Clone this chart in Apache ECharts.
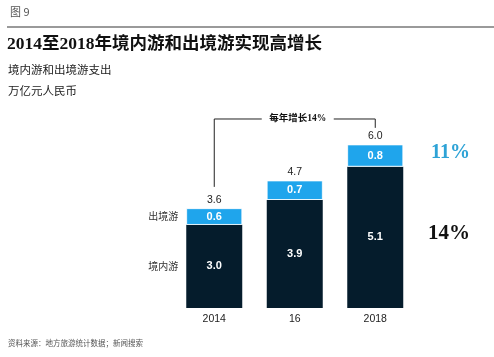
<!DOCTYPE html>
<html><head><meta charset="utf-8">
<script src="https://cdn.jsdelivr.net/npm/echarts@6/dist/echarts.min.js"></script>
<style>html,body{margin:0;padding:0;background:#fff}#c{width:494px;height:357px}</style>
</head><body><div id="c"></div>
<script>
var categories = ['2014', '16', '2018'];
var domestic = [3.0, 3.9, 5.1];
var outbound = [0.6, 0.7, 0.8];
var totals = [3.6, 4.7, 6.0];
var seriesNames = ['境内游', '出境游'];
var growthLabel = '每年增长14%';
var cagrOutbound = '11%';
var cagrDomestic = '14%';

var DARK = '#051c2c', BLUE = '#1fa5ec';
var chart = echarts.init(document.getElementById('c'), null, {renderer: 'canvas'});
var sans = 'Arial, "Liberation Sans", "Noto Sans CJK SC", sans-serif';
var serif = '"Liberation Serif", "Noto Sans CJK SC", serif';

var option = {
  animation: false,
  grid: {left: 174, width: 241.5, top: 114, height: 194},
  xAxis: {
    type: 'category', data: categories,
    axisLine: {show: false}, axisTick: {show: false},
    axisLabel: {color: '#222', fontSize: 10.5, fontFamily: sans, margin: 6}
  },
  yAxis: {type: 'value', min: 0, max: 7, show: false},
  series: [
    {name: seriesNames[0], type: 'bar', stack: 's', data: domestic, barWidth: 56,
     itemStyle: {color: DARK},
     label: {show: true, position: 'inside', color: '#fff', fontSize: 11, fontWeight: 'bold', fontFamily: sans,
       formatter: function(p){return p.value.toFixed(1);}}},
    {name: seriesNames[1], type: 'bar', stack: 's', data: outbound, barWidth: 56,
     itemStyle: {color: BLUE, borderColor: '#fff', borderWidth: 0.8},
     label: {show: true, position: 'inside', color: '#fff', fontSize: 11, fontWeight: 'bold', fontFamily: sans,
       formatter: function(p){return p.value.toFixed(1);}}},
    {name: 'total', type: 'bar', stack: 's', data: totals.map(function(){return 0;}), barWidth: 56,
     itemStyle: {color: 'transparent'},
     label: {show: true, position: 'top', distance: 3, color: '#222', fontSize: 10.5, fontFamily: sans,
       formatter: function(p){return totals[p.dataIndex].toFixed(1);}}}
  ]
};
chart.setOption(option);

function px(i, v){ return chart.convertToPixel({xAxisIndex:0, yAxisIndex:0}, [i, v]); }
var p0top = px(0, 6.82), p0bot = px(0, totals[0] + 0.77);
var p2top = px(2, 6.82), p2bot = px(2, totals[2] + 0.5);
var midX = (p0top[0] + p2top[0]) / 2 + 3;
var dOut = px(0, domestic[0] + outbound[0] / 2), dDom = px(0, domestic[0] / 2);
var r1 = px(2, domestic[2] + outbound[2] / 2 + 0.1), r2 = px(2, domestic[2] / 2 + 0.15);

chart.setOption({
  graphic: [
    {type: 'text', left: 10, top: 6, style: {text: '图 9', fontSize: 11, fill: '#555', fontFamily: '"Noto Sans CJK SC", sans-serif'}},
    {type: 'line', shape: {x1: 7, y1: 27, x2: 494, y2: 27}, style: {stroke: '#9a9a9a', lineWidth: 2}},
    {type: 'text', left: 7, top: 36, style: {text: '2014至2018年境内游和出境游实现高增长', fontSize: 17.5, fontWeight: 'bold', fill: '#111', fontFamily: serif}},
    {type: 'text', left: 8, top: 64, style: {text: '境内游和出境游支出', fontSize: 11.5, fill: '#222', fontFamily: '"Noto Sans CJK SC", sans-serif'}},
    {type: 'text', left: 8, top: 85, style: {text: '万亿元人民币', fontSize: 11.5, fill: '#222', fontFamily: '"Noto Sans CJK SC", sans-serif'}},
    {type: 'text', left: 8, top: 339, style: {text: '资料来源：地方旅游统计数据；新闻搜索', fontSize: 7.5, fill: '#555', fontFamily: '"Noto Sans CJK SC", sans-serif'}},
    {type: 'polyline', shape: {points: [[p0bot[0], p0bot[1]], [p0top[0], p0top[1]], [midX - 36, p0top[1]]]}, style: {stroke: '#222', lineWidth: 1, fill: null}},
    {type: 'polyline', shape: {points: [[midX + 36, p2top[1]], [p2top[0], p2top[1]], [p2bot[0], p2bot[1]]]}, style: {stroke: '#222', lineWidth: 1, fill: null}},
    {type: 'text', x: midX, y: p0top[1], style: {text: growthLabel, fontSize: 9.5, fontWeight: 'bold', fill: '#111', fontFamily: serif, align: 'center', verticalAlign: 'middle'}},
    {type: 'text', x: dOut[0] - 36, y: dOut[1], style: {text: seriesNames[1], fontSize: 10, fill: '#333', fontFamily: '"Noto Sans CJK SC", sans-serif', align: 'right', verticalAlign: 'middle'}},
    {type: 'text', x: dDom[0] - 36, y: dDom[1], style: {text: seriesNames[0], fontSize: 10, fill: '#333', fontFamily: '"Noto Sans CJK SC", sans-serif', align: 'right', verticalAlign: 'middle'}},
    {type: 'text', x: 431, y: r1[1], style: {text: cagrOutbound, fontSize: 20, fontWeight: 'bold', fill: '#2ea3d6', fontFamily: serif, verticalAlign: 'middle'}},
    {type: 'text', x: 428, y: r2[1], style: {text: cagrDomestic, fontSize: 21, fontWeight: 'bold', fill: '#111', fontFamily: serif, verticalAlign: 'middle'}}
  ]
});
</script></body></html>
